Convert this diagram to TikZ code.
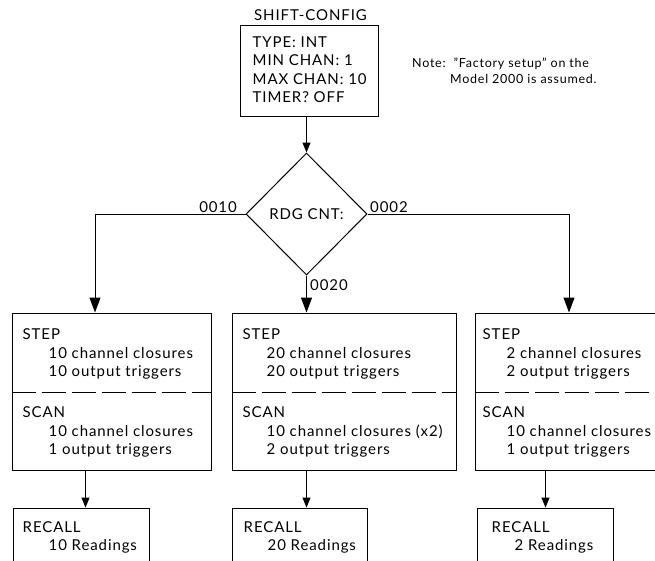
\documentclass[tikz,border=0pt]{standalone}
\usepackage{fontspec}
\setmainfont{Lato}[LetterSpace=6]
\usetikzlibrary{shapes.geometric,arrows.meta,positioning}

\begin{document}
\begin{tikzpicture}[
    x=1pt, y=-1pt,
    box/.style={rectangle, draw, line width=1pt, inner sep=0pt},
    txt/.style={anchor=base west, align=left, inner sep=0pt, font=\fontsize{15}{18.5}\selectfont},
    lbl/.style={inner sep=0pt, font=\fontsize{15}{18}\selectfont},
    decision/.style={diamond, draw, line width=1pt, minimum width=121pt, minimum height=122pt, inner sep=0pt, font=\fontsize{15}{18}\selectfont},
    divider/.style={line width=1pt, dash pattern=on 24pt off 6pt},
    arrow/.style={-{Triangle[length=15pt,width=11pt]}, line width=1pt},
    smallarrow/.style={-{Triangle[length=10pt,width=8pt]}, line width=1pt}
]
    \useasboundingbox (0,0) rectangle (655,560);
    \clip (0,0) rectangle (655,560);

    % Configuration
    \node[lbl, anchor=base] (cfgtitle) at (310.5,20) {SHIFT-CONFIG};
    \node[box, minimum width=138pt, minimum height=91pt] (config) at (309,70.5) {};
    \node[txt] (cfgtxt) at ([xshift=13pt,yshift=-78pt]config.north west) {TYPE: INT\\MIN CHAN: 1\\MAX CHAN: 10\\TIMER? OFF};
    \node[anchor=base west, align=left, inner sep=0pt, font=\fontsize{12.5}{16}\selectfont] (note) at (412,83)
        {Note:\ \ "Factory setup" on the\\\hspace*{38pt}Model 2000 is assumed.};

    % Reading count
    \node[decision] (rdg) at (306.5,214) {RDG CNT:};
    \coordinate (lturn) at (95,214);
    \coordinate (rturn) at (569,214);

    % Step / scan boxes
    \node[box, minimum width=199pt, minimum height=157pt] (stepL) at (111.5,391.5) {};
    \node[box, minimum width=224pt, minimum height=157pt] (stepM) at (344,391.5) {};
    \node[box, minimum width=215pt, minimum height=157pt] (stepR) at (582.5,391.5) {};
    \foreach \b in {stepL,stepM,stepR}
        \draw[divider] ([yshift=-80pt]\b.north west) -- ([yshift=-80pt]\b.north east);

    \node[txt] (stepLtxt) at ([xshift=11pt,yshift=-64pt]stepL.north west) {STEP\\\hspace*{26pt}10 channel closures\\\hspace*{26pt}10 output triggers};
    \node[txt] (scanLtxt) at ([xshift=11pt,yshift=-142pt]stepL.north west) {SCAN\\\hspace*{26pt}10 channel closures\\\hspace*{26pt}1 output triggers};
    \node[txt] (stepMtxt) at ([xshift=11pt,yshift=-64pt]stepM.north west) {STEP\\\hspace*{24pt}20 channel closures\\\hspace*{24pt}20 output triggers};
    \node[txt] (scanMtxt) at ([xshift=11pt,yshift=-142pt]stepM.north west) {SCAN\\\hspace*{24pt}10 channel closures (x2)\\\hspace*{24pt}2 output triggers};
    \node[txt] (stepRtxt) at ([xshift=8pt,yshift=-64pt]stepR.north west) {STEP\\\hspace*{24pt}2 channel closures\\\hspace*{24pt}2 output triggers};
    \node[txt] (scanRtxt) at ([xshift=8pt,yshift=-142pt]stepR.north west) {SCAN\\\hspace*{24pt}10 channel closures\\\hspace*{24pt}1 output triggers};

    % Recall boxes
    \node[box, minimum width=136pt, minimum height=70pt] (recallL) at (81,543) {};
    \node[box, minimum width=135pt, minimum height=70pt] (recallM) at (299.5,543) {};
    \node[box, minimum width=136pt, minimum height=70pt] (recallR) at (545,543) {};
    \node[txt] (recallLtxt) at ([xshift=10pt,yshift=-43pt]recallL.north west) {RECALL\\\hspace*{26pt}10 Readings};
    \node[txt] (recallMtxt) at ([xshift=12pt,yshift=-43pt]recallM.north west) {RECALL\\\hspace*{24pt}20 Readings};
    \node[txt] (recallRtxt) at ([xshift=15pt,yshift=-43pt]recallR.north west) {RECALL\\\hspace*{23pt}2 Readings};

    % Arrows
    \draw[smallarrow] (config.south -| rdg.north) -- (rdg.north);
    \draw[arrow] (rdg.west) -- (lturn) -- (lturn |- stepL.north);
    \draw[arrow] (rdg.east) -- (rturn) -- (rturn |- stepR.north);
    \draw[arrow] (rdg.south) -- (rdg.south |- stepM.north);
    \draw[smallarrow] ([xshift=74pt]stepL.south west) -- ([xshift=74pt]stepL.south west |- recallL.north);
    \draw[smallarrow] ([xshift=75pt]stepM.south west) -- ([xshift=75pt]stepM.south west |- recallM.north);
    \draw[smallarrow] ([xshift=71pt]stepR.south west) -- ([xshift=71pt]stepR.south west |- recallR.north);

    % Labels
    \node[lbl, anchor=base east] (c10) at (237,212) {0010};
    \node[lbl, anchor=base west] (c02) at (370,212) {0002};
    \node[lbl, anchor=base west] (c20) at (310,290) {0020};
\end{tikzpicture}
\end{document}
